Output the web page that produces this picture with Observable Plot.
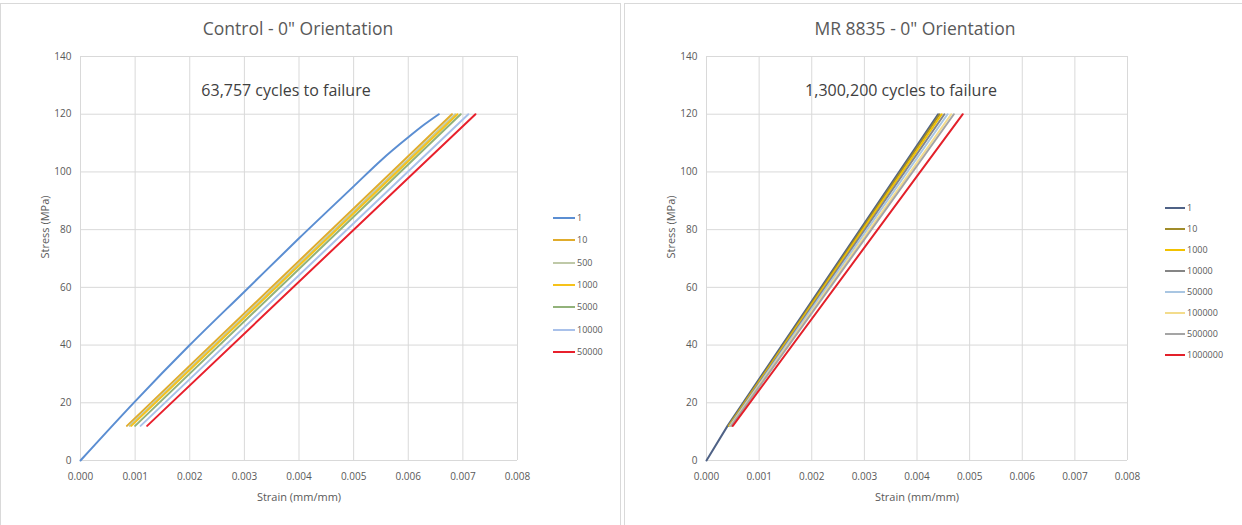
<!DOCTYPE html>
<html><head><meta charset="utf-8">
<script src="https://cdn.jsdelivr.net/npm/d3@7"></script>
<script src="https://cdn.jsdelivr.net/npm/@observablehq/plot@0.6"></script>
<style>
body{margin:0;background:#fff;font-family:"Open Sans",sans-serif;}
#wrap{position:relative;width:1242px;height:525px;overflow:hidden;background:#fff}
.border{position:absolute;border:1px solid #d9d9d9;box-sizing:border-box}
.title{position:absolute;text-align:center;font-size:17.5px;color:#595959;line-height:20px}
.leg{position:absolute;font-size:9px;color:#595959;line-height:10px}
.legline{position:absolute;height:2px}
</style></head>
<body><div id="wrap"></div>
<script>
// ---------- DATA ----------
const leftTitle = "Control  - 0\" Orientation";
const leftNote = "63,757 cycles to failure";
const leftSeries = ["1", "10", "500", "1000", "5000", "10000", "50000"];
const leftColors = ["#5b8ed2", "#e0ac2c", "#bfc9a8", "#f6c21a", "#92b27a", "#a9c1ea", "#e8202c"];
const ctrl_1     = [[0, 0], [0.001, 20.5], [0.002, 40], [0.003, 58.5], [0.004, 77], [0.005, 95], [0.0055, 104], [0.006, 112], [0.0063, 116.5], [0.00656, 120]];
const ctrl_10    = [[0.00085, 12], [0.0068, 120]];
const ctrl_500   = [[0.0009, 12], [0.00686, 120]];
const ctrl_1000  = [[0.00093, 12], [0.0069, 120]];
const ctrl_5000  = [[0.001, 12], [0.00696, 120]];
const ctrl_10000 = [[0.0011, 12], [0.0071, 120]];
const ctrl_50000 = [[0.00122, 12], [0.00723, 120]];
const leftData = [ctrl_1, ctrl_10, ctrl_500, ctrl_1000, ctrl_5000, ctrl_10000, ctrl_50000];

const rightTitle = "MR 8835  - 0\" Orientation";
const rightNote = "1,300,200 cycles to failure";
const rightSeries = ["1", "10", "1000", "10000", "50000", "100000", "500000", "1000000"];
const rightColors = ["#4f6286", "#a08c2a", "#f2c200", "#858585", "#a9c6e2", "#f3dc8c", "#a5a5a5", "#e3202a"];
const mr_1       = [[0, 0], [0.0004, 12], [0.0044, 120]];
const mr_10      = [[0.00042, 12], [0.00443, 120]];
const mr_1000    = [[0.00043, 12], [0.00447, 120]];
const mr_10000   = [[0.00044, 12], [0.00452, 120]];
const mr_50000   = [[0.00045, 12], [0.00458, 120]];
const mr_100000  = [[0.00046, 12], [0.00465, 120]];
const mr_500000  = [[0.00047, 12], [0.0047, 120]];
const mr_1000000 = [[0.0005, 12], [0.00487, 120]];
const rightData = [mr_1, mr_10, mr_1000, mr_10000, mr_50000, mr_100000, mr_500000, mr_1000000];

const xTicks = [0, 0.001, 0.002, 0.003, 0.004, 0.005, 0.006, 0.007, 0.008];
const yTicks = [0, 20, 40, 60, 80, 100, 120, 140];
const xLabel = "Strain (mm/mm)";
const yLabel = "Stress (MPa)";

// ---------- DRAW ----------
const wrap = document.getElementById("wrap");
function el(cls, styles, text) {
  const d = document.createElement("div");
  d.className = cls;
  Object.assign(d.style, styles);
  if (text != null) d.textContent = text;
  wrap.appendChild(d);
  return d;
}
el("border", {left: "0px", top: "3px", width: "621px", height: "540px"});
el("border", {left: "624px", top: "3px", width: "630px", height: "540px"});

function chart(cfg) {
  const rows = [];
  cfg.data.forEach((pts, i) => pts.forEach(([x, y]) => rows.push({x, y, s: cfg.series[i]})));
  const plot = Plot.plot({
    width: cfg.width, height: 480,
    marginLeft: cfg.ml, marginRight: cfg.mr, marginTop: 11, marginBottom: 65,
    style: {fontFamily: "'Open Sans', sans-serif", fontSize: "10px", color: "#595959", background: "transparent"},
    x: {domain: [0, 0.008], ticks: xTicks, tickFormat: d3.format(".3f")},
    y: {domain: [0, 140], ticks: yTicks},
    color: {domain: cfg.series, range: cfg.colors},
    marks: [
      Plot.gridX(xTicks, {stroke: "#d9d9d9", strokeOpacity: 1}),
      Plot.gridY(yTicks, {stroke: "#d9d9d9", strokeOpacity: 1}),
      Plot.axisX(xTicks, {tickSize: 0, tickPadding: 12, label: null, tickFormat: d3.format(".3f"), fill: "#595959"}),
      Plot.axisY(yTicks, {tickSize: 0, tickPadding: 9, label: null, fill: "#595959"}),
      Plot.line(rows, {x: "x", y: "y", z: "s", stroke: "s", strokeWidth: 2, curve: cfg.curve}),
      Plot.text([cfg.note], {frameAnchor: "top", lineAnchor: "middle", dy: 34, dx: cfg.noteDx, fontSize: 16, fill: "#404040"}),
      Plot.text([yLabel], {frameAnchor: "left", rotate: -90, dx: -35, fontSize: 11, fill: "#595959"}),
      Plot.text([xLabel], {frameAnchor: "bottom", lineAnchor: "middle", dy: 37, fontSize: 11, fill: "#595959"})
    ]
  });
  plot.style.position = "absolute";
  plot.style.left = cfg.left + "px";
  plot.style.top = "45px";
  wrap.appendChild(plot);
  el("title", {left: (cfg.left + cfg.titleCx - 200) + "px", top: "18px", width: "400px"}, cfg.title);
  cfg.series.forEach((s, i) => {
    const cy = cfg.legY + i * cfg.legStep;
    el("legline", {left: cfg.legX + "px", top: (cy - 1) + "px", width: cfg.legW + "px", background: cfg.colors[i]});
    el("leg", {left: (cfg.legX + cfg.legW + 2) + "px", top: (cy - 5) + "px"}, s);
  });
}

chart({left: 0, width: 620, ml: 80, mr: 103, data: leftData, series: leftSeries, colors: leftColors, curve: "monotone-x",
  title: leftTitle, titleCx: 298, note: leftNote, noteDx: -13, legX: 553, legW: 22, legY: 218, legStep: 22.3});
chart({left: 625, width: 617, ml: 81, mr: 115, data: rightData, series: rightSeries, colors: rightColors, curve: "linear",
  title: rightTitle, titleCx: 290, note: rightNote, noteDx: -16, legX: 1165, legW: 20, legY: 208, legStep: 21});
</script></body></html>
